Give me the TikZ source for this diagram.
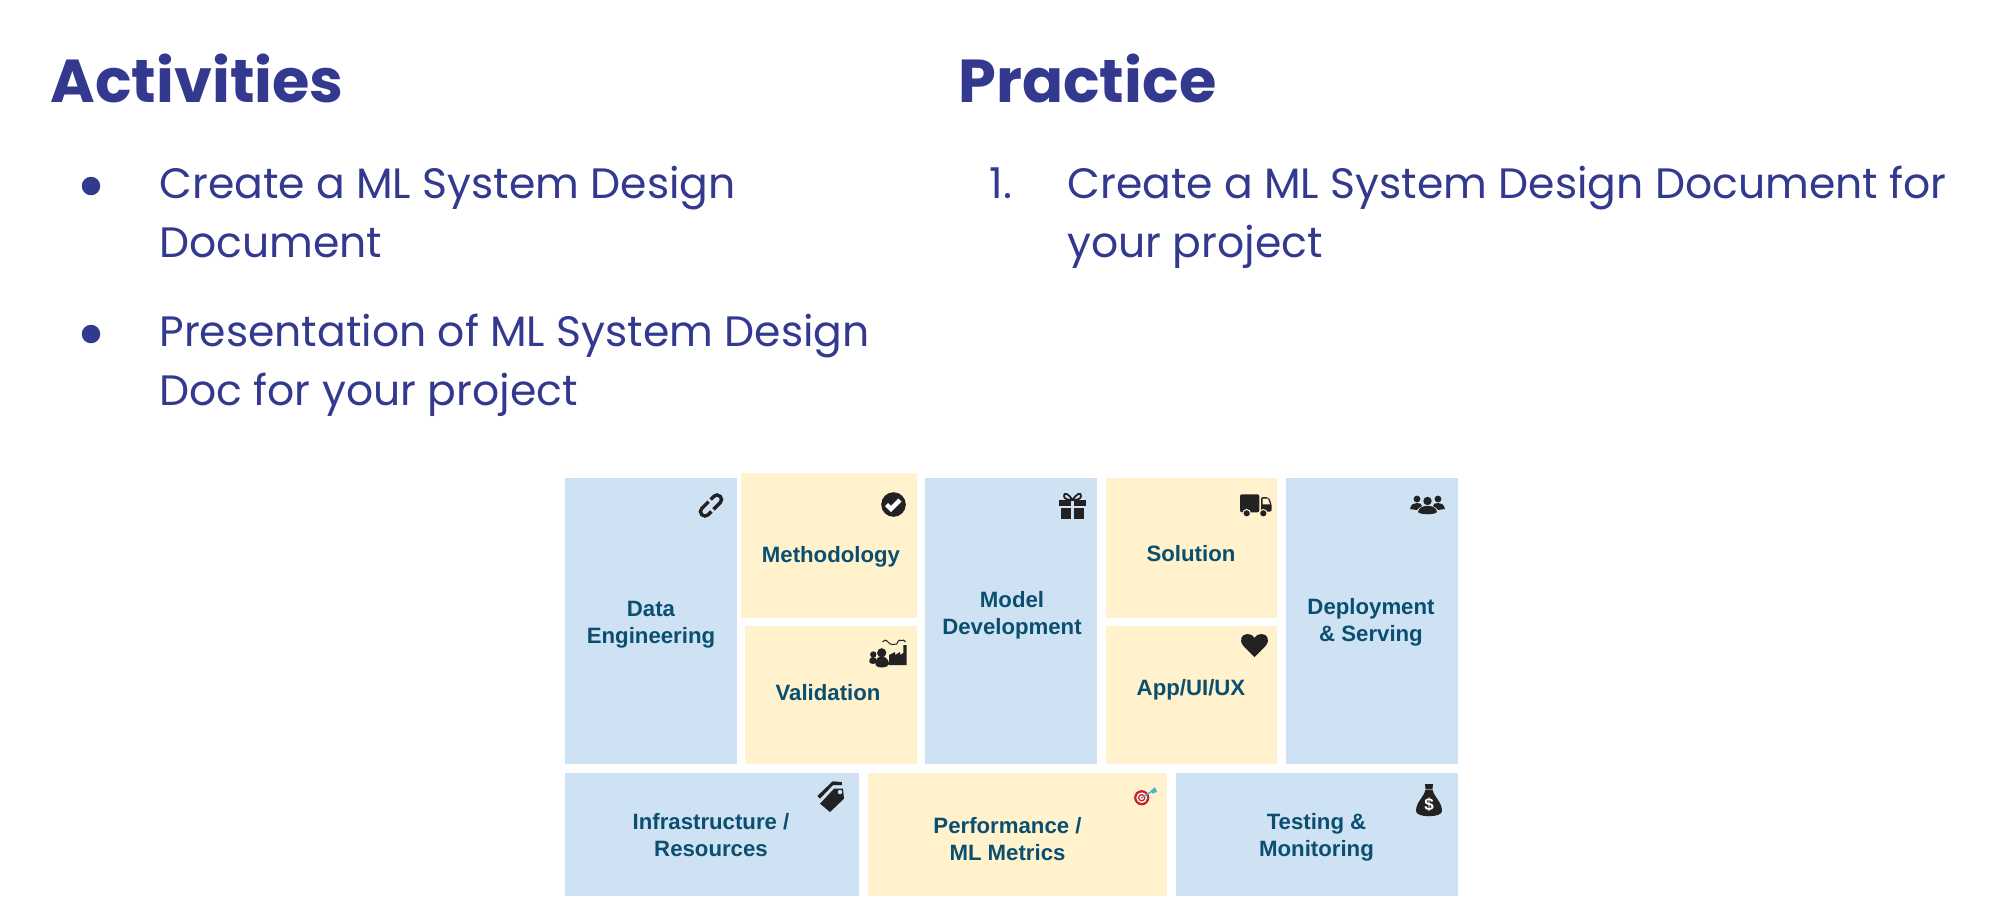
\documentclass[tikz,border=0pt]{standalone}
\usepackage{fontspec}
\setmainfont{Poppins}
\newfontfamily\boxfont{Liberation Sans}[BoldFont={Liberation Sans Bold}]
\definecolor{titlec}{HTML}{32398F}
\definecolor{bluebox}{HTML}{CFE2F3}
\definecolor{yellowbox}{HTML}{FFF2CC}
\definecolor{labelc}{HTML}{0A4F70}
\definecolor{iconc}{HTML}{222222}
\definecolor{targetred}{HTML}{C8202A}
\definecolor{dartc}{HTML}{4FB3C4}
\tikzset{
  heading/.style={anchor=base west,inner sep=0pt,text=titlec,font=\fontsize{30.3}{33}\selectfont\bfseries},
  bodytext/.style={anchor=base west,inner sep=0pt,text=titlec,align=left,font=\fontsize{21.25}{29.5}\selectfont},
  dotmark/.style={circle,fill=titlec,inner sep=0pt,minimum size=9.25pt},
  panel/.style={inner sep=0pt,outer sep=0pt},
  lab/.style={inner sep=0pt,text=labelc,align=center,font=\boxfont\bfseries\fontsize{11.1}{13.5}\selectfont},
}
\newcommand{\panelbox}[6]{\node[panel,fill=#6,minimum width={(#4-#2)*0.5pt},minimum height={(#5-#3)*0.5pt}] (#1) at ({(#2+#4)/2},{(#3+#5)/2}) {};}
\begin{document}
\begin{tikzpicture}[x=0.5pt,y=-0.5pt]
\useasboundingbox (0,0) rectangle (1992,918);
\node[heading] (h1) at (50,102) {Activities};
\node[heading] (h2) at (958,102) {Practice};
\node[dotmark] (d1) at (91,186) {};
\node[dotmark] (d2) at (91,334) {};
\node[bodytext] (t1) at (159,257) {Create a ML System Design\\Document};
\node[bodytext] (t2) at (159,405) {Presentation of ML System Design\\Doc for your project};
\node[bodytext] (n1) at (989,198) {1.};
\node[bodytext] (t3) at (1067,257) {Create a ML System Design Document for\\your project};

\panelbox{data}{565}{477.5}{737}{764}{bluebox}
\panelbox{meth}{741}{473}{917}{617.5}{yellowbox}
\panelbox{vali}{745}{626}{917}{764}{yellowbox}
\panelbox{model}{925}{477.5}{1097}{764}{bluebox}
\panelbox{solu}{1106}{477.5}{1277}{617.5}{yellowbox}
\panelbox{app}{1106}{626}{1277}{764}{yellowbox}
\panelbox{depl}{1286}{477.5}{1458}{764}{bluebox}
\panelbox{infra}{565}{772.5}{859}{896}{bluebox}
\panelbox{perf}{868}{772.5}{1167}{896}{yellowbox}
\panelbox{test}{1176}{772.5}{1458}{896}{bluebox}

\node[lab] (ldata) at (651,624.5) {\strut Data\\\strut Engineering};
\node[lab] (lmeth) at (831,557) {\strut Methodology};
\node[lab] (lvali) at (828,695) {\strut Validation};
\node[lab] (lmodel) at (1012,616) {\strut Model\\\strut Development};
\node[lab] (lsolu) at (1191,556) {\strut Solution};
\node[lab] (lapp) at (1191,690.5) {\strut App/UI/UX};
\node[lab] (ldepl) at (1371,623) {\strut Deployment\\\strut \& Serving};
\node[lab] (linfra) at (711,838) {\strut Infrastructure /\\\strut Resources};
\node[lab] (lperf) at (1007.5,842) {\strut Performance /\\\strut ML Metrics};
\node[lab] (ltest) at (1316.5,838) {\strut Testing \&\\\strut Monitoring};

% link icon
\begin{scope}[shift={(711,505.5)},rotate=45]
  \draw[iconc,line width=1.7pt,rounded corners=2.2pt] (1,-4.5) -- (-13,-4.5) -- (-13,4.5) -- (-4,4.5);
  \draw[iconc,line width=1.7pt,rounded corners=2.2pt] (-1,4.5) -- (13,4.5) -- (13,-4.5) -- (4,-4.5);
\end{scope}
% check icon
\begin{scope}[shift={(893.5,504.5)}]
  \fill[iconc] (0,0) circle[radius=12.3];
  \draw[white,line width=2.2pt] (-7,0) -- (-2.5,4.5) -- (6.5,-4.5);
\end{scope}
% factory + people icon
\begin{scope}[shift={(869,638)}]
  \fill[iconc] (20,27) -- (20,17) -- (26,14) -- (26,17) -- (31,14) -- (31,17) -- (34.3,15) -- (34.3,7) -- (37.7,7) -- (37.7,27) -- cycle;
  \draw[iconc,line width=.5pt] (13.5,4) .. controls (15,1.5) and (17,1.5) .. (19,4) .. controls (21,7) and (25,7) .. (27.7,6) .. controls (29,2) and (32,1) .. (33,2.5) .. controls (34,1.5) and (35.5,2) .. (36.5,4);
  \fill[iconc] (12.7,14.8) circle[radius=4.6];
  \fill[iconc] (6.5,27) .. controls (6,21) and (9,18.5) .. (12.7,18.5) .. controls (17,18.5) and (20,22) .. (20,26) .. controls (19.5,30) and (8,31) .. (6.5,27) -- cycle;
  \fill[iconc] (4.3,16.5) circle[radius=3.2];
  \fill[iconc] (0.3,24) .. controls (0.3,20) and (2,19) .. (4.3,19) .. controls (6.5,19) and (8,21) .. (7.8,24) .. controls (7,26.5) and (1,26.5) .. (0.3,24) -- cycle;
\end{scope}
% gift icon
\begin{scope}[shift={(1059,492)}]
  \draw[iconc,line width=.9pt] (13.5,8) .. controls (9,1) and (5,0) .. (5,4) .. controls (5,7) and (9,8) .. (13.5,8) .. controls (18,1) and (22,0) .. (22,4) .. controls (22,7) and (18,8) .. (13.5,8);
  \fill[iconc] (0,8) rectangle (12,14);
  \fill[iconc] (15,8) rectangle (27,14);
  \fill[iconc] (2,16) rectangle (12,27);
  \fill[iconc] (15,16) rectangle (25,27);
\end{scope}
% truck icon
\begin{scope}[shift={(1240,494)}]
  \fill[iconc,rounded corners=1pt] (0,0.3) rectangle (19.3,18.3);
  \fill[iconc,rounded corners=1pt] (21,3) -- (28.5,3) -- (31.7,10) -- (31.7,17.7) -- (21,17.7) -- cycle;
  \fill[yellowbox] (22.7,4.7) -- (28,4.7) -- (30,10.3) -- (22.7,10.3) -- cycle;
  \fill[iconc,draw=yellowbox,line width=.5pt] (6.7,19.3) circle[radius=3.8];
  \fill[iconc,draw=yellowbox,line width=.5pt] (23.3,19.3) circle[radius=3.8];
\end{scope}
% people icon
\begin{scope}[shift={(1410,495)}]
  \fill[iconc] (7,4) circle[radius=3.4];
  \fill[iconc] (28,4) circle[radius=3.4];
  \fill[iconc] (0,14) .. controls (1,9) and (4,8) .. (7,8) .. controls (10,8) and (12,9) .. (12,11) .. controls (9,12) and (8,14) .. (7,15) -- cycle;
  \fill[iconc] (35,14) .. controls (34,9) and (31,8) .. (28,8) .. controls (25,8) and (23,9) .. (23,11) .. controls (26,12) and (27,14) .. (28,15) -- cycle;
  \fill[iconc] (17.5,6) circle[radius=4.2];
  \fill[iconc] (8,17) .. controls (9,12) and (13,11) .. (17.5,11) .. controls (22,11) and (26,12) .. (27,17) .. controls (25,20) and (10,20) .. (8,17) -- cycle;
\end{scope}
% heart icon
\begin{scope}[shift={(1254.5,634)}]
  \fill[iconc] (0,23) -- (-11,12) .. controls (-16,6) and (-13,0) .. (-7,0) .. controls (-4,0) and (-2,1) .. (0,4) .. controls (2,1) and (4,0) .. (7,0) .. controls (13,0) and (16,6) .. (11,12) -- cycle;
\end{scope}
% tag icon
\begin{scope}[shift={(800,772)}]
  \fill[iconc] (17.3,24) -- (32.7,9.3) -- (41.7,10) -- (42,13) -- (33,13) -- (20,26.7) -- cycle;
  \fill[iconc,even odd rule] (20,31.7) -- (34,16.7) -- (43,16.7) -- (44,26.7) -- (30,40) -- cycle (40,20) circle[radius=2.4];
\end{scope}
% target icon
\begin{scope}[shift={(1141.7,797.7)}]
  \fill[targetred] (0,0) circle[radius=7.6];
  \fill[white] (0,0) circle[radius=5.4];
  \fill[targetred] (0,0) circle[radius=3.8];
  \fill[white] (0,0) circle[radius=2.3];
  \fill[orange!90!red] (0,0) circle[radius=1.1];
  \draw[dartc,line width=.7pt] (0,0) -- (11,-7);
  \fill[dartc] (9,-7) -- (13,-10.5) -- (14.5,-8) -- (15.5,-6) -- (11,-4) -- cycle;
\end{scope}
% money bag icon
\begin{scope}[shift={(1429,784)}]
  \fill[iconc] (-4,0) -- (4,0) -- (3.5,5) -- (-3.5,5) -- cycle;
  \fill[iconc] (-3.5,5.5) -- (3.5,5.5) .. controls (5,13) and (13,18) .. (13,27) .. controls (13,34) and (-13,34) .. (-13,27) .. controls (-13,18) and (-5,13) .. (-3.5,5.5) -- cycle;
  \node[inner sep=0pt,text=white,font=\boxfont\bfseries\fontsize{8.5}{8.5}\selectfont] (bagsign) at (0,21) {\$};
\end{scope}
\end{tikzpicture}
\end{document}
